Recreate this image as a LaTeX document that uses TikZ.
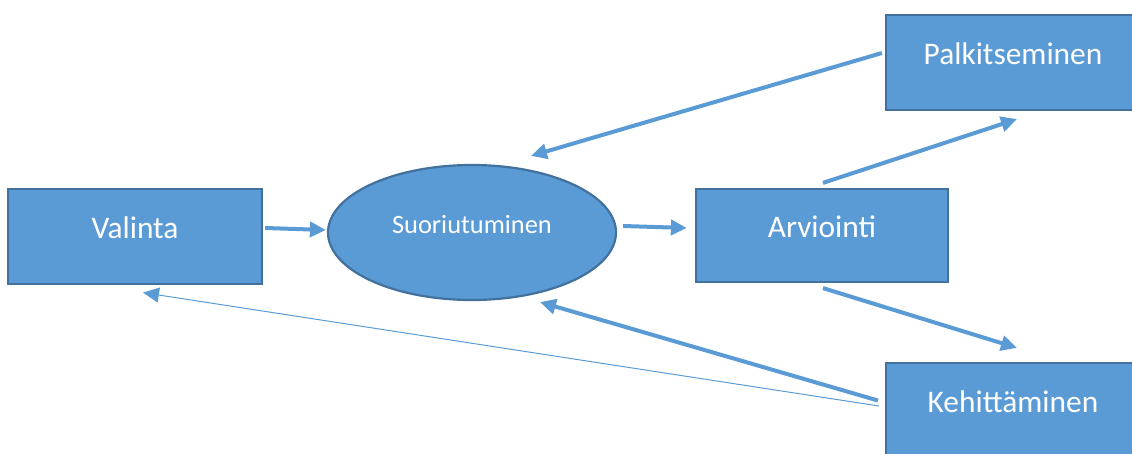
\documentclass[tikz,border=0pt]{standalone}
\usepackage{fontspec}
\setmainfont{Carlito}
\usepackage{tikz}
\usetikzlibrary{calc}
\usetikzlibrary{shapes.geometric, arrows.meta}

\definecolor{boxblue}{HTML}{5B9BD5}
\definecolor{edgeblue}{HTML}{41719C}

\begin{document}
\begin{tikzpicture}[x=0.5pt, y=-0.5pt, >={Triangle[length=8pt, width=7.5pt]},
    box/.style={rectangle, draw=edgeblue, fill=boxblue, line width=1.1pt, text=white, text height=7pt, text depth=4.5pt, font=\fontsize{15.7}{18}\selectfont},
    blob/.style={ellipse, draw=edgeblue, fill=boxblue, line width=1.1pt, text=white, inner sep=0pt, text height=5.5pt, text depth=4pt, font=\fontsize{13.2}{16}\selectfont},
    link/.style={draw=boxblue, line width=2pt},
    thinlink/.style={draw=boxblue, line width=0.5pt}]
  \clip (0,0) rectangle (1132,454);

  \node[box, minimum width=127pt, minimum height=47.5pt]  (val)  at (135,236.5)  {Valinta};
  \node[blob, minimum width=144pt, minimum height=67.5pt] (suor) at (472,232.5)  {Suoriutuminen};
  \node[box, minimum width=126pt, minimum height=46.5pt]  (arv)  at (822,235.5)  {Arviointi};
  \node[box, minimum width=127pt, minimum height=47.5pt]  (palk) at (1013,62.5)  {Palkitseminen};
  \node[box, minimum width=127pt, minimum height=47.5pt]  (keh)  at (1013,410.5) {Kehittäminen};

  \path[->]
        ($(val.east)+(2,-8.5)$)   edge [link]     ($(suor.west)+(-1,-2.5)$)
        ($(suor.east)+(6,-6.5)$)  edge [link]     ($(arv.west)+(-8,-7.5)$)
        ($(palk.west)+(-3,-9.5)$) edge [link]     ($(suor.north)+(59,-8)$)
        ($(arv.north)+(1,-5)$)    edge [link]     ($(palk.south)+(4,8)$)
        ($(arv.south)+(1,5)$)     edge [link]     ($(keh.north)+(4,-14)$)
        ($(keh.west)+(-7,-10)$)   edge [link]     ($(suor.south)+(68,1)$)
        ($(keh.west)+(-6,-4.5)$)  edge [thinlink] ($(val.south)+(8,7.5)$)
        ;
\end{tikzpicture}
\end{document}
